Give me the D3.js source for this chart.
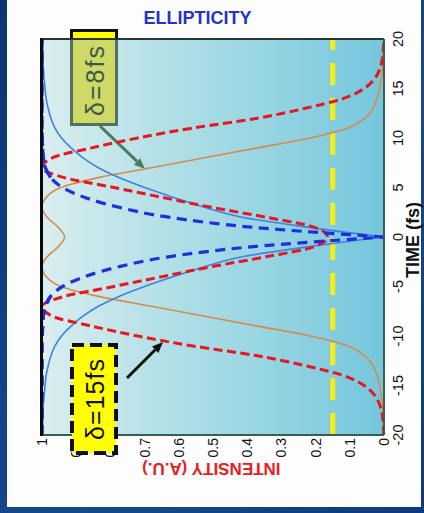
<!DOCTYPE html>
<html>
<head>
<meta charset="utf-8">
<script src="https://cdn.jsdelivr.net/npm/d3@7"></script>
<style>
  html, body { margin: 0; padding: 0; width: 424px; height: 513px; overflow: hidden; background: #0f3c7a; }
  svg { display: block; }
  text { font-family: "Liberation Sans", Arial, Helvetica, sans-serif; }
</style>
</head>
<body>
<svg id="chart" width="424" height="513"></svg>
<script>
// ---- data -------------------------------------------------------------
const timeFs = [-20,-19,-18,-17,-16,-15,-14,-13,-12,-11,-10,-9,-8,-7,-6,-5,-4,-3,-2,-1,
                0,1,2,3,4,5,6,7,8,9,10,11,12,13,14,15,16,17,18,19,20];

// total intensity, delay 15 fs
const intensityD15 = [0.001,0.002,0.005,0.012,0.027,0.058,0.118,0.23,0.37,0.56,0.72,0.855,0.97,1.0,0.935,0.79,0.648,0.505,0.345,0.205,
                      0.165,0.205,0.345,0.505,0.648,0.79,0.935,1.0,0.97,0.855,0.72,0.56,0.37,0.23,0.118,0.058,0.027,0.012,0.005,0.002,0.001];

// total intensity, delay 8 fs
const intensityD8 = [0.001,0.002,0.003,0.005,0.008,0.013,0.02,0.032,0.056,0.105,0.215,0.37,0.525,0.68,0.835,0.945,0.988,1.0,0.985,0.953,
                     0.934,0.953,0.985,1.0,0.988,0.945,0.835,0.68,0.525,0.37,0.215,0.105,0.056,0.032,0.02,0.013,0.008,0.005,0.003,0.002,0.001];

// ellipticity, delay 15 fs
const ellipticityD15 = [1,1,1,1,1,1,1,1,1,1,0.999,0.998,0.996,0.99,0.975,0.94,0.875,0.775,0.63,0.39,
                        0,
                        0.39,0.63,0.775,0.875,0.94,0.975,0.99,0.996,0.998,0.999,1,1,1,1,1,1,1,1,1,1];

// ellipticity, delay 8 fs
const ellipticityD8 = [0.999,0.998,0.997,0.996,0.994,0.991,0.988,0.982,0.974,0.962,0.943,0.915,0.88,0.835,0.775,0.70,0.615,0.525,0.415,0.225,
                       0,
                       0.225,0.415,0.525,0.615,0.70,0.775,0.835,0.88,0.915,0.943,0.962,0.974,0.982,0.988,0.991,0.994,0.996,0.997,0.998,0.999];

const gateLevel = 0.15;
const timeTicks = [-20,-15,-10,-5,0,5,10,15,20];
const intensityTicks = [0,0.1,0.2,0.3,0.4,0.5,0.6,0.7,0.8,0.9,1];
const intensityTickLabels = ["0","0.1","0.2","0.3","0.4","0.5","0.6","0.7","0.8","0.9","1"];

// ---- layout -----------------------------------------------------------
const svg = d3.select("#chart");
const L = 42, R = 384, T = 39, B = 435;     // plot box on the page
const W = B - T;                             // time axis length
const H = R - L;                             // intensity axis length

const defs = svg.append("defs");
const pageGrad = defs.append("linearGradient").attr("id", "pageGrad")
  .attr("x1", 0).attr("y1", 0).attr("x2", 1).attr("y2", 1);
pageGrad.append("stop").attr("offset", "0%").attr("stop-color", "#0b3572");
pageGrad.append("stop").attr("offset", "60%").attr("stop-color", "#164a8c");
pageGrad.append("stop").attr("offset", "100%").attr("stop-color", "#0d3a7a");

const plotGrad = defs.append("linearGradient").attr("id", "plotGrad")
  .attr("x1", 0).attr("y1", 0).attr("x2", 1).attr("y2", 0);
plotGrad.append("stop").attr("offset", "0%").attr("stop-color", "#daeeef");
plotGrad.append("stop").attr("offset", "30%").attr("stop-color", "#b8e2e8");
plotGrad.append("stop").attr("offset", "65%").attr("stop-color", "#97d5e2");
plotGrad.append("stop").attr("offset", "100%").attr("stop-color", "#74c6dc");

// slide frame
svg.append("rect").attr("x", 0).attr("y", 0).attr("width", 424).attr("height", 513).attr("fill", "url(#pageGrad)");
svg.append("rect").attr("x", 7).attr("y", 0).attr("width", 414).attr("height", 507).attr("fill", "#fdfdfd");

// plot background
svg.append("rect").attr("x", L).attr("y", T).attr("width", H).attr("height", W).attr("fill", "url(#plotGrad)");

// ---- delta = 8 fs note (sits under the plot tint) ---------------------
function arrow(g, x1, y1, x2, y2, color, width, headLen, headW) {
  const a = Math.atan2(y2 - y1, x2 - x1);
  const bx = x2 - headLen * Math.cos(a), by = y2 - headLen * Math.sin(a);
  g.append("line").attr("x1", x1).attr("y1", y1).attr("x2", bx).attr("y2", by)
    .attr("stroke", color).attr("stroke-width", width);
  const px = -Math.sin(a) * headW / 2, py = Math.cos(a) * headW / 2;
  g.append("polygon")
    .attr("points", `${x2},${y2} ${bx + px},${by + py} ${bx - px},${by - py}`)
    .attr("fill", color);
}

const note8 = svg.append("g");
note8.append("rect").attr("x", 71.5).attr("y", 30.5).attr("width", 45).attr("height", 94)
  .attr("fill", "#cfd966").attr("stroke", "#4f7262").attr("stroke-width", 3);
note8.append("rect").attr("x", 71.5).attr("y", 30.5).attr("width", 45).attr("height", 8.5)
  .attr("fill", "#ffff00");
note8.append("path").attr("d", "M71.5,39 V30.5 H116.5 V39")
  .attr("fill", "none").attr("stroke", "#111").attr("stroke-width", 3);
note8.append("text")
  .attr("transform", "translate(95,80) rotate(-90)")
  .attr("text-anchor", "middle").attr("dominant-baseline", "central")
  .attr("font-size", 25).attr("letter-spacing", 2).attr("fill", "#3c5a4a")
  .text("δ=8fs");
arrow(note8, 100, 126, 145, 169, "#4b7a5f", 3, 11, 9);

// ---- chart drawn in time/intensity frame, turned a quarter turn -------
const g = svg.append("g").attr("transform", `translate(${L},${B}) rotate(-90)`);

const x = d3.scaleLinear().domain([-20, 20]).range([0, W]);
const y = d3.scaleLinear().domain([0, 1]).range([H, 0]);

// gate threshold
g.append("line")
  .attr("x1", x(-20)).attr("x2", x(20))
  .attr("y1", y(gateLevel)).attr("y2", y(gateLevel))
  .attr("stroke", "#f4ee12").attr("stroke-width", 5)
  .attr("stroke-dasharray", "22,13");

const rows = (vals) => timeFs.map((t, i) => ({ t, v: vals[i] }));
const line = d3.line().x(d => x(d.t)).y(d => y(d.v)).curve(d3.curveMonotoneX);

// intensity, 8 fs
g.append("path").datum(rows(intensityD8)).attr("d", line)
  .attr("fill", "none").attr("stroke", "#d58b4f").attr("stroke-width", 1.6);

// ellipticity, 8 fs (two halves keep the sharp minimum at t = 0)
const halves = (vals) => {
  const r = rows(vals);
  return [r.filter(d => d.t <= 0), r.filter(d => d.t >= 0)];
};
halves(ellipticityD8).forEach(h => {
  g.append("path").datum(h).attr("d", line)
    .attr("fill", "none").attr("stroke", "#3f82e6").attr("stroke-width", 1.6);
});

// intensity, 15 fs
g.append("path").datum(rows(intensityD15)).attr("d", line)
  .attr("fill", "none").attr("stroke", "#e8161e").attr("stroke-width", 3)
  .attr("stroke-dasharray", "9,4.5");

// ellipticity, 15 fs
halves(ellipticityD15).forEach(h => {
  g.append("path").datum(h).attr("d", line)
    .attr("fill", "none").attr("stroke", "#1e2fe0").attr("stroke-width", 3.2)
    .attr("stroke-dasharray", "10,6.5");
});

// time tick labels
g.selectAll("text.tt").data(timeTicks).enter().append("text")
  .attr("class", "tt")
  .attr("x", d => x(d)).attr("y", H + 14)
  .attr("text-anchor", "middle").attr("dominant-baseline", "central")
  .attr("font-size", 14.5).attr("fill", "#111")
  .text(d => d);

// intensity tick labels
g.selectAll("text.it").data(intensityTicks).enter().append("text")
  .attr("class", "it")
  .attr("x", -3).attr("y", d => y(d))
  .attr("text-anchor", "end").attr("dominant-baseline", "central")
  .attr("font-size", 14).attr("fill", "#111")
  .text((d, i) => intensityTickLabels[i]);

// axis titles
g.append("text")
  .attr("transform", `translate(${x(0) - 3},${H + 29})`)
  .attr("text-anchor", "middle").attr("dominant-baseline", "central")
  .attr("font-size", 18).attr("font-weight", "bold").attr("fill", "#111")
  .text("TIME (fs)");

g.append("text")
  .attr("transform", `translate(-33,${y(0.505)}) rotate(-90)`)
  .attr("text-anchor", "middle").attr("dominant-baseline", "central")
  .attr("font-size", 17).attr("font-weight", "bold").attr("fill", "#e32222")
  .text("INTENSITY (A.U.)");

g.append("text")
  .attr("transform", `translate(${W + 21.5},${y(0.545)}) rotate(90)`)
  .attr("text-anchor", "middle").attr("dominant-baseline", "central")
  .attr("font-size", 18).attr("font-weight", "bold").attr("fill", "#2434c8")
  .text("ELLIPTICITY");

// plot frame
svg.append("line").attr("x1", L).attr("x2", R).attr("y1", T).attr("y2", T)
  .attr("stroke", "#2a3431").attr("stroke-width", 2);
svg.append("line").attr("x1", R).attr("x2", R).attr("y1", T).attr("y2", B)
  .attr("stroke", "#3a5e50").attr("stroke-width", 2);
svg.append("line").attr("x1", L).attr("x2", R).attr("y1", B).attr("y2", B)
  .attr("stroke", "#3a5e50").attr("stroke-width", 2);
svg.append("line").attr("x1", L - 0.5).attr("x2", L - 0.5).attr("y1", T - 1).attr("y2", B + 1)
  .attr("stroke", "#0a0a0a").attr("stroke-width", 3);

// redraw the 15 fs ellipticity where it runs along the frame
halves(ellipticityD15).forEach(h => {
  g.append("path").datum(h.filter(d => Math.abs(d.t) >= 6)).attr("d", line)
    .attr("fill", "none").attr("stroke", "#1e2fe0").attr("stroke-width", 3.2)
    .attr("stroke-dasharray", "10,6.5");
});

// ---- delta = 15 fs note -----------------------------------------------
const note15 = svg.append("g");
note15.append("rect").attr("x", 72).attr("y", 345).attr("width", 44).attr("height", 108)
  .attr("fill", "#ffff00").attr("stroke", "#111").attr("stroke-width", 4)
  .attr("stroke-dasharray", "12,6");
note15.append("text")
  .attr("transform", "translate(95,399) rotate(-90)")
  .attr("text-anchor", "middle").attr("dominant-baseline", "central")
  .attr("font-size", 25).attr("letter-spacing", 1).attr("fill", "#111")
  .text("δ=15fs");
arrow(note15, 127, 378, 163, 342, "#111", 3, 11, 9);
</script>
</body>
</html>
